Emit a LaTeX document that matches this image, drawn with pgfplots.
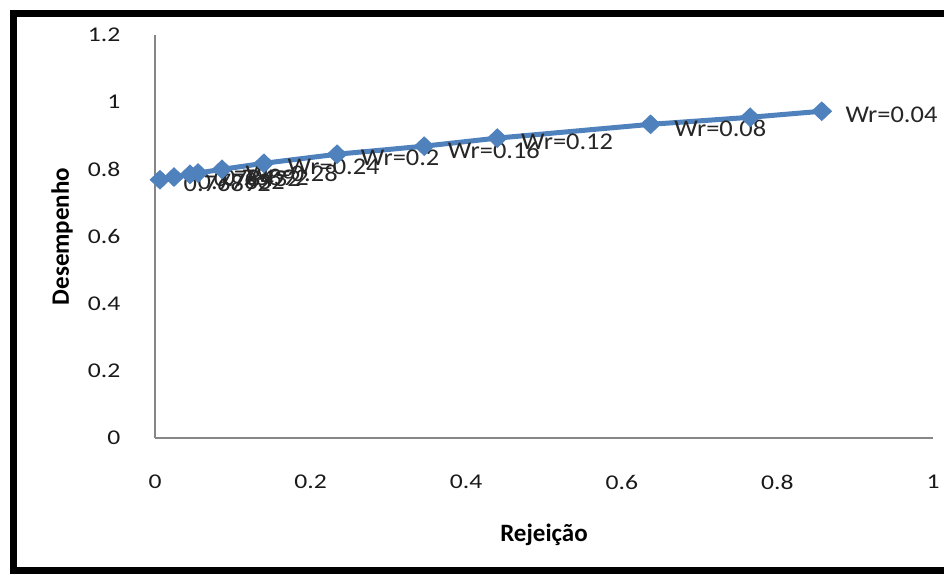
\documentclass[border=0pt]{standalone}
\usepackage{fontspec}
\setmainfont{Carlito}
\usepackage{pgfplots}
\pgfplotsset{compat=1.18}
\definecolor{serie}{HTML}{4F81BD}
\definecolor{axgray}{HTML}{868686}
\begin{document}
\begin{tikzpicture}
\useasboundingbox (0,0) rectangle (472bp,287.5bp);
\begin{scope}
\clip (0,0) rectangle (472bp,287.5bp);
\draw[line width=3.4bp] (6.75bp,2.4bp) rectangle (520bp,280.75bp);
\end{scope}
\begin{axis}[
  at={(77.5bp,68.5bp)}, anchor=south west,
  scale only axis, width=389bp, height=201.5bp,
  xmin=0, xmax=1, ymin=0, ymax=1.2,
  enlargelimits=false,
  axis x line*=bottom, axis y line*=left,
  axis line style={draw=axgray, line width=0.8bp},
  major tick length=0pt,
  xtick={0,0.2,0.4,0.6,0.8,1},
  ytick={0,0.2,0.4,0.6,0.8,1,1.2},
  /pgf/number format/assume math mode=true,
  /pgf/number format/.cd, fixed, precision=2, /pgfplots/.cd,
  ticklabel style={font=\fontsize{10.5bp}{12bp}\selectfont, text=black!90, xscale=1.22},
  yticklabel style={anchor=east, inner sep=0pt, xshift=-14bp},
  xticklabel style={anchor=center, inner sep=0pt, yshift=-22bp},
  xlabel={\textbf{Rejeição}},
  ylabel={\textbf{Desempenho}},
  label style={font=\fontsize{12.5bp}{14bp}\selectfont},
  xlabel style={at={(axis description cs:0.5,-0.2407)}, anchor=center},
  ylabel style={at={(axis description cs:-0.1195,0.5)}, anchor=center},
  clip=false,
]
\addplot[color=serie, line width=2.5bp, mark=diamond*,
  mark size=4.6bp, mark options={xscale=1.4, fill=serie, draw=serie, line width=0.5bp},
  point meta=explicit symbolic,
  nodes near coords,
  every node near coord/.append style={anchor=west, xshift=10.5bp, yshift=-2bp,
     font=\fontsize{12bp}{14bp}\selectfont, text=black!85, xscale=1.1, inner sep=1bp},
] coordinates {
  (0.0064,0.769) [0.76892]
  (0.0244,0.777) [0.77832]
  (0.0450,0.785) [0.78432]
  (0.0553,0.789) [0.78892]
  (0.0861,0.800) [Wr=0.28]
  (0.140,0.818) [Wr=0.24]
  (0.234,0.845) [Wr=0.2]
  (0.346,0.869) [Wr=0.16]
  (0.440,0.893) [Wr=0.12]
  (0.637,0.934) [Wr=0.08]
  (0.765,0.955) []
  (0.857,0.973) [Wr=0.04]
};
\end{axis}
\end{tikzpicture}
\end{document}
